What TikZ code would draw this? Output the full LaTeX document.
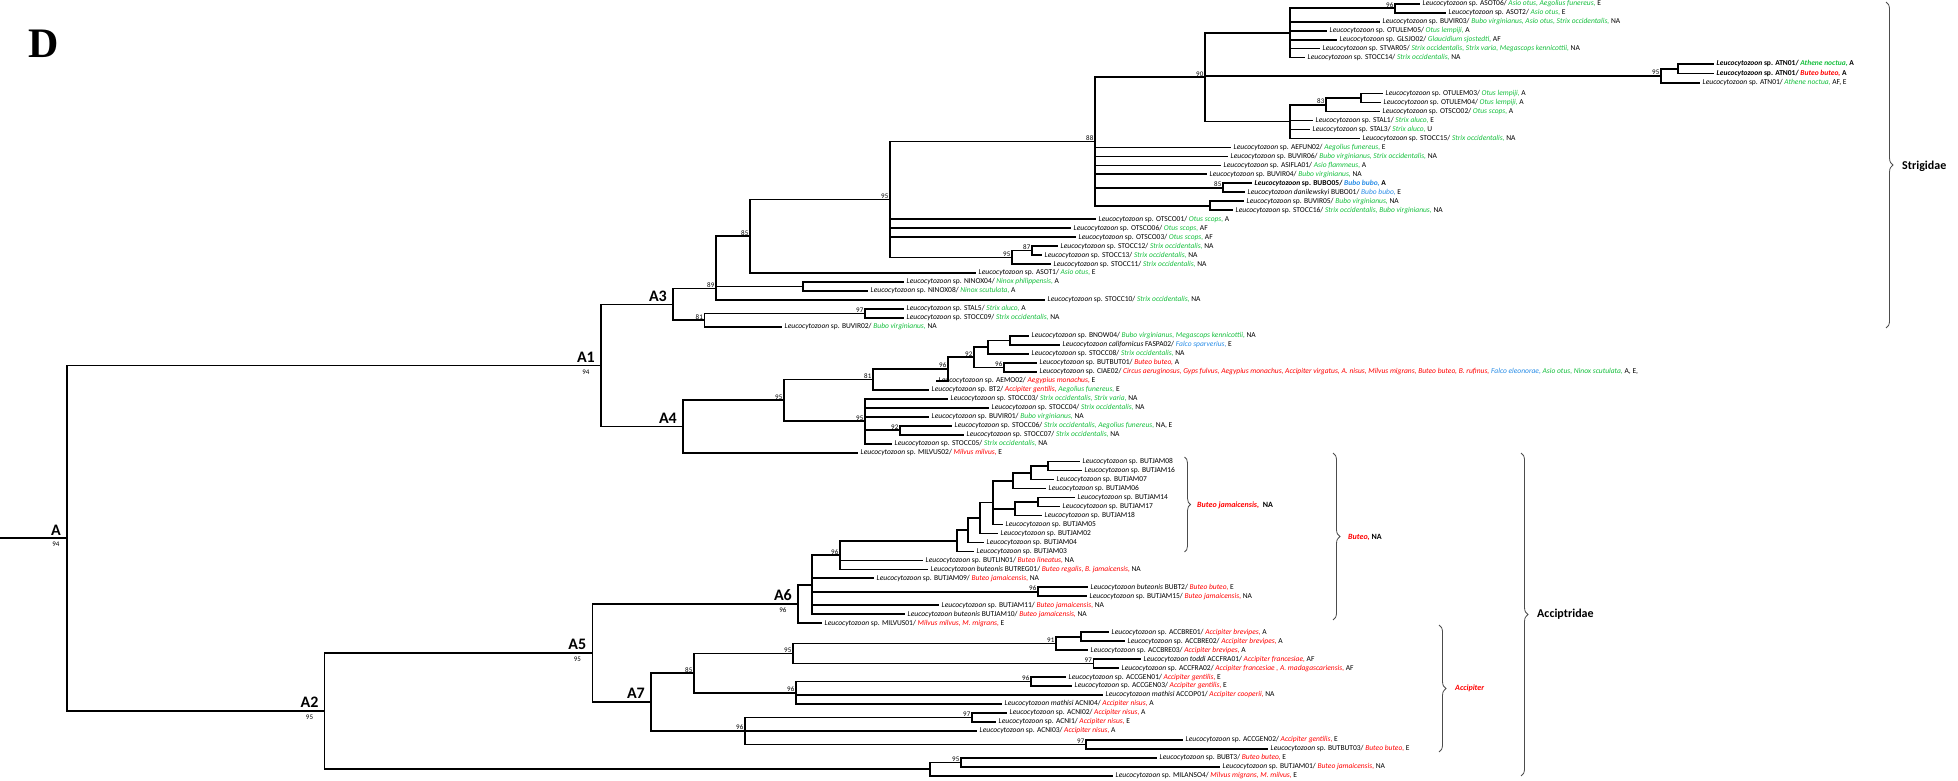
\documentclass[tikz,border=0pt]{standalone}
\usepackage{fontspec}
\setmainfont{Carlito}
\newfontfamily\serifD{Liberation Serif}
\usetikzlibrary{decorations.pathreplacing}
\definecolor{sg}{RGB}{20,190,60}
\definecolor{sr}{RGB}{255,0,0}
\definecolor{sb}{RGB}{40,140,230}
\newcommand{\Lz}{\textit{Leucocytozoon}}
\newcommand{\sG}[1]{\textcolor{sg}{\textit{#1}}}
\newcommand{\sR}[1]{\textcolor{sr}{\textit{#1}}}
\newcommand{\sB}[1]{\textcolor{sb}{\textit{#1}}}
\newcommand{\leaf}[4]{\node[lf] (#1) at (#2,#3) {#4};}
\newcommand{\kids}[2]{\foreach \kk in {#2}{\draw[br] (#1) |- (\kk);}}
\newcommand{\bsv}[2]{\node[bs] (b#1) at ([xshift=-1.5pt,yshift=0.8pt]#1) {#2};}
\newcommand{\clab}[3]{\node[al] (t#1) at ([xshift=-6pt,yshift=3pt]#1) {#2};
  \path (t#1.south |- #1) coordinate (v#1);
  \node[bsa] (u#1) at ([yshift=-4pt]v#1) {#3};}
\begin{document}
\begin{tikzpicture}[x=1pt,y=-1pt,
  br/.style={line width=1.7pt},
  lf/.style={anchor=west,inner xsep=2.5pt,inner ysep=0pt,font=\fontsize{7.5}{8}\selectfont,text height=5.2pt,text depth=1.4pt},
  bs/.style={anchor=south east,inner sep=0pt,font=\fontsize{7}{7}\selectfont},
  al/.style={anchor=south east,inner sep=0pt,font=\bfseries\fontsize{16}{16}\selectfont,text depth=0pt},
  bsa/.style={anchor=north,inner sep=0pt,font=\fontsize{7}{7}\selectfont},
  brk/.style={draw=black!70,line width=0.8pt,decorate,decoration={brace,amplitude=7pt}},
  grp/.style={anchor=west,inner sep=0pt,font=\bfseries\fontsize{12}{12}\selectfont},
  cladelab/.style={anchor=west,inner sep=0pt,font=\bfseries\fontsize{8}{8}\selectfont}]
\useasboundingbox (0,0) rectangle (1958,780);
\node[anchor=base west,inner sep=0pt,font=\serifD\bfseries\fontsize{42}{42}\selectfont] (D) at (28,57) {D};

% ---------------- leaves ----------------
\leaf{l1}{1420}{3.75}{\Lz{} sp. ASOT06/ \sG{Asio otus, Aegolius funereus,} E}
\leaf{l2}{1446}{12.73}{\Lz{} sp. ASOT2/ \sG{Asio otus,} E}
\leaf{l3}{1380}{21.71}{\Lz{} sp. BUVIR03/ \sG{Bubo virginianus, Asio otus, Strix occidentalis,} NA}
\leaf{l4}{1327}{30.68}{\Lz{} sp. OTULEM05/ \sG{Otus lempiji,} A}
\leaf{l5}{1337}{39.66}{\Lz{} sp. GLSJO02/ \sG{Glaucidium sjostedti,} AF}
\leaf{l6}{1320}{48.64}{\Lz{} sp. STVAR05/ \sG{Strix occidentalis, Strix varia, Megascops kennicottii,} NA}
\leaf{l7}{1305}{57.62}{\Lz{} sp. STOCC14/ \sG{Strix occidentalis,} NA}
\leaf{l8}{1714}{64}{\bfseries\Lz{} sp. ATN01/ \sG{Athene noctua,} A}
\leaf{l9}{1714}{73.5}{\bfseries\Lz{} sp. ATN01/ \sR{Buteo buteo,} A}
\leaf{l10}{1700}{83}{\Lz{} sp. ATN01/ \sG{Athene noctua,} AF, E}
\leaf{l11}{1383}{93.53}{\Lz{} sp. OTULEM03/ \sG{Otus lempiji,} A}
\leaf{l12}{1381}{102.51}{\Lz{} sp. OTULEM04/ \sG{Otus lempiji,} A}
\leaf{l13}{1380}{111.49}{\Lz{} sp. OTSCO02/ \sG{Otus scops,} A}
\leaf{l14}{1313}{120.46}{\Lz{} sp. STAL1/ \sG{Strix aluco,} E}
\leaf{l15}{1310}{129.44}{\Lz{} sp. STAL3/ \sG{Strix aluco,} U}
\leaf{l16}{1360}{138.42}{\Lz{} sp. STOCC15/ \sG{Strix occidentalis,} NA}
\leaf{l17}{1231}{147.40}{\Lz{} sp. AEFUN02/ \sG{Aegolius funereus,} E}
\leaf{l18}{1228}{156.38}{\Lz{} sp. BUVIR06/ \sG{Bubo virginianus, Strix occidentalis,} NA}
\leaf{l19}{1221}{165.35}{\Lz{} sp. ASIFLA01/ \sG{Asio flammeus,} A}
\leaf{l20}{1207}{174.33}{\Lz{} sp. BUVIR04/ \sG{Bubo virginianus,} NA}
\leaf{l21}{1252}{183.31}{\bfseries\Lz{} sp. BUBO05/ \sB{Bubo bubo,} A}
\leaf{l22}{1245}{192.29}{\Lz{} \textit{danilewskyi} BUBO01/ \sB{Bubo bubo,} E}
\leaf{l23}{1244}{201.26}{\Lz{} sp. BUVIR05/ \sG{Bubo virginianus,} NA}
\leaf{l24}{1233}{210.24}{\Lz{} sp. STOCC16/ \sG{Strix occidentalis, Bubo virginianus,} NA}
\leaf{l25}{1096}{219.22}{\Lz{} sp. OTSCO01/ \sG{Otus scops,} A}
\leaf{l26}{1071}{228.20}{\Lz{} sp. OTSCO06/ \sG{Otus scops,} AF}
\leaf{l27}{1076}{237.18}{\Lz{} sp. OTSCO03/ \sG{Otus scops,} AF}
\leaf{l28}{1058}{246.15}{\Lz{} sp. STOCC12/ \sG{Strix occidentalis,} NA}
\leaf{l29}{1042}{255.13}{\Lz{} sp. STOCC13/ \sG{Strix occidentalis,} NA}
\leaf{l30}{1051}{264.11}{\Lz{} sp. STOCC11/ \sG{Strix occidentalis,} NA}
\leaf{l31}{976}{273.09}{\Lz{} sp. ASOT1/ \sG{Asio otus,} E}
\leaf{l32}{904}{282.07}{\Lz{} sp. NINOX04/ \sG{Ninox philippensis,} A}
\leaf{l33}{868}{291.04}{\Lz{} sp. NINOX08/ \sG{Ninox scutulata,} A}
\leaf{l34}{1045}{300.02}{\Lz{} sp. STOCC10/ \sG{Strix occidentalis,} NA}
\leaf{l35}{904}{309.00}{\Lz{} sp. STAL5/ \sG{Strix aluco,} A}
\leaf{l36}{904}{317.98}{\Lz{} sp. STOCC09/ \sG{Strix occidentalis,} NA}
\leaf{l37}{782}{326.96}{\Lz{} sp. BUVIR02/ \sG{Bubo virginianus,} NA}
\leaf{l38}{1029}{335.93}{\Lz{} sp. BNOW04/ \sG{Bubo virginianus, Megascops kennicottii,} NA}
\leaf{l39}{1060}{344.91}{\Lz{} \textit{californicus} FASPA02/ \sB{Falco sparverius,} E}
\leaf{l40}{1029}{353.89}{\Lz{} sp. STOCC08/ \sG{Strix occidentalis,} NA}
\leaf{l41}{1037}{362.87}{\Lz{} sp. BUTBUT01/ \sR{Buteo buteo,} A}
\leaf{l42}{1037}{371.84}{\Lz{} sp. CIAE02/ \sR{Circus aeruginosus, Gyps fulvus, Aegypius monachus, Accipiter virgatus, A. nisus, Milvus migrans, Buteo buteo, B. rufinus,} \sB{Falco eleonorae,} \sG{Asio otus, Ninox scutulata,} A, E,}
\leaf{l43}{936}{380.82}{\Lz{} sp. AEMO02/ \sR{Aegypius monachus,} E}
\leaf{l44}{929}{389.80}{\Lz{} sp. BT2/ \sR{Accipiter gentilis,} \sG{Aegolius funereus,} E}
\leaf{l45}{948}{398.78}{\Lz{} sp. STOCC03/ \sG{Strix occidentalis, Strix varia,} NA}
\leaf{l46}{989}{407.76}{\Lz{} sp. STOCC04/ \sG{Strix occidentalis,} NA}
\leaf{l47}{929}{416.73}{\Lz{} sp. BUVIR01/ \sG{Bubo virginianus,} NA}
\leaf{l48}{952}{425.71}{\Lz{} sp. STOCC06/ \sG{Strix occidentalis, Aegolius funereus,} NA, E}
\leaf{l49}{964}{434.69}{\Lz{} sp. STOCC07/ \sG{Strix occidentalis,} NA}
\leaf{l50}{892}{443.67}{\Lz{} sp. STOCC05/ \sG{Strix occidentalis,} NA}
\leaf{l51}{858}{452.65}{\Lz{} sp. MILVUS02/ \sR{Milvus milvus,} E}
\leaf{l52}{1080}{461.62}{\Lz{} sp. BUTJAM08}
\leaf{l53}{1082}{470.60}{\Lz{} sp. BUTJAM16}
\leaf{l54}{1054}{479.58}{\Lz{} sp. BUTJAM07}
\leaf{l55}{1046}{488.56}{\Lz{} sp. BUTJAM06}
\leaf{l56}{1075}{497.53}{\Lz{} sp. BUTJAM14}
\leaf{l57}{1060}{506.51}{\Lz{} sp. BUTJAM17}
\leaf{l58}{1042}{515.49}{\Lz{} sp. BUTJAM18}
\leaf{l59}{1003}{524.47}{\Lz{} sp. BUTJAM05}
\leaf{l60}{998}{533.45}{\Lz{} sp. BUTJAM02}
\leaf{l61}{984}{542.42}{\Lz{} sp. BUTJAM04}
\leaf{l62}{974}{551.40}{\Lz{} sp. BUTJAM03}
\leaf{l63}{923}{560.38}{\Lz{} sp. BUTLIN01/ \sR{Buteo lineatus,} NA}
\leaf{l64}{928}{569.36}{\Lz{} \textit{buteonis} BUTREG01/ \sR{Buteo regalis, B. jamaicensis,} NA}
\leaf{l65}{874}{578.33}{\Lz{} sp. BUTJAM09/ \sR{Buteo jamaicensis,} NA}
\leaf{l66}{1088}{587.31}{\Lz{} \textit{buteonis} BUBT2/ \sR{Buteo buteo,} E}
\leaf{l67}{1087}{596.29}{\Lz{} sp. BUTJAM15/ \sR{Buteo jamaicensis,} NA}
\leaf{l68}{939}{605.27}{\Lz{} sp. BUTJAM11/ \sR{Buteo jamaicensis,} NA}
\leaf{l69}{905}{614.25}{\Lz{} \textit{buteonis} BUTJAM10/ \sR{Buteo jamaicensis,} NA}
\leaf{l70}{822}{623.22}{\Lz{} sp. MILVUS01/ \sR{Milvus milvus, M. migrans,} E}
\leaf{l71}{1109}{632.20}{\Lz{} sp. ACCBRE01/ \sR{Accipiter brevipes,} A}
\leaf{l72}{1125}{641.18}{\Lz{} sp. ACCBRE02/ \sR{Accipiter brevipes,} A}
\leaf{l73}{1088}{650.16}{\Lz{} sp. ACCBRE03/ \sR{Accipiter brevipes,} A}
\leaf{l74}{1141}{659.13}{\Lz{} \textit{toddi} ACCFRA01/ \sR{Accipiter francesiae,} AF}
\leaf{l75}{1119}{668.11}{\Lz{} sp. ACCFRA02/ \sR{Accipiter francesiae , A. madagascariensis,} AF}
\leaf{l76}{1066}{677.09}{\Lz{} sp. ACCGEN01/ \sR{Accipiter gentilis,} E}
\leaf{l77}{1072}{686.07}{\Lz{} sp. ACCGEN03/ \sR{Accipiter gentilis,} E}
\leaf{l78}{1103}{695.05}{\Lz{} \textit{mathisi} ACCOP01/ \sR{Accipiter cooperii,} NA}
\leaf{l79}{1002}{704.02}{\Lz{} \textit{mathisi} ACNI04/ \sR{Accipiter nisus,} A}
\leaf{l80}{1007}{713.00}{\Lz{} sp. ACNI02/ \sR{Accipiter nisus,} A}
\leaf{l81}{996}{721.98}{\Lz{} sp. ACNI1/ \sR{Accipiter nisus,} E}
\leaf{l82}{977}{730.96}{\Lz{} sp. ACNI03/ \sR{Accipiter nisus,} A}
\leaf{l83}{1183}{739.93}{\Lz{} sp. ACCGEN02/ \sR{Accipiter gentilis,} E}
\leaf{l84}{1268}{748.91}{\Lz{} sp. BUTBUT03/ \sR{Buteo buteo,} E}
\leaf{l85}{1157}{757.89}{\Lz{} sp. BUBT3/ \sR{Buteo buteo,} E}
\leaf{l86}{1220}{766.87}{\Lz{} sp. BUTJAM01/ \sR{Buteo jamaicensis,} NA}
\leaf{l87}{1113}{775.85}{\Lz{} sp. MILANSO4/ \sR{Milvus migrans, M. milvus,} E}

% ---------------- internal nodes ----------------
\coordinate (root) at (0,538.2);
\coordinate (A) at (67,538.2);
\coordinate (A1) at (601,365.4);
\coordinate (A2) at (324.6,711.05);
\coordinate (A3) at (673,304.4);
\coordinate (A4) at (683,426.5);
\coordinate (A5) at (592.4,653);
\coordinate (A6) at (798,604);
\coordinate (A7) at (651,702.06);
% Strigidae
\coordinate (n96a) at (1395,8.24);
\coordinate (ntop) at (1290,32.93);
\coordinate (natp) at (1678,68.75);
\coordinate (n95b) at (1661,75.88);
\coordinate (not) at (1361,98.02);
\coordinate (n83) at (1326,104.76);
\coordinate (nmid) at (1290,121.59);
\coordinate (n90) at (1205,77.26);
\coordinate (n85b) at (1223,187.8);
\coordinate (nbv) at (1210,205.75);
\coordinate (n88) at (1095,141.5);
\coordinate (n87) at (1032,250.64);
\coordinate (n95s) at (1012,257.4);
\coordinate (n95a) at (890,199.4);
\coordinate (n85) at (750,236.2);
\coordinate (nnin) at (802.7,286.56);
\coordinate (n89) at (716,288.5);
\coordinate (n97) at (865,313.49);
\coordinate (n81) at (704.5,320.2);
% A4
\coordinate (n1010) at (1010,340.42);
\coordinate (n988) at (988,347.16);
\coordinate (n96b) at (1004,367.36);
\coordinate (n92) at (974,357.26);
\coordinate (n96c) at (948,369.04);
\coordinate (n81b) at (873,379.42);
\coordinate (n92b) at (900,430.2);
\coordinate (n95d) at (865,421.2);
\coordinate (n95c) at (784,400.3);
% A6
\coordinate (nj8) at (1048,466.11);
\coordinate (nj7) at (1031,472.85);
\coordinate (nj6) at (1013,480.7);
\coordinate (nj14) at (1038,502.02);
\coordinate (nj17) at (1015,508.76);
\coordinate (nj1) at (993,502.6);
\coordinate (nj2) at (980,518.0);
\coordinate (nj3) at (968,530.2);
\coordinate (nj4) at (957,540.8);
\coordinate (n96f) at (840,555.1);
\coordinate (n96e) at (1038,591.8);
\coordinate (nb1) at (812,584.7);
% A7
\coordinate (n1081) at (1081,636.69);
\coordinate (n91) at (1056,643.43);
\coordinate (n97a) at (1093.5,663.62);
\coordinate (n95i) at (793,653.5);
\coordinate (n96h) at (1031,681.58);
\coordinate (n96g) at (796,692.8);
\coordinate (n85c) at (694,673.15);
\coordinate (n97b) at (972,717.49);
\coordinate (n97c) at (1086,744.42);
\coordinate (n96i) at (745,730.96);
\coordinate (n95h) at (961,762.38);
\coordinate (n95g) at (930,769.1);

% ---------------- branches ----------------
\draw[br] (root) -- (A);
\kids{A}{A1,A2}
\kids{A1}{A3,A4}
\kids{A3}{n89,n81}
\kids{n89}{n85,nnin,l34.west}
\kids{n85}{n95a,l31.west}
\kids{n95a}{n88,l25.west,l26.west,l27.west,n95s}
\kids{n95s}{n87,l30.west}
\kids{n87}{l28.west,l29.west}
\kids{n88}{n90,l17.west,l18.west,l19.west,l20.west,n85b,nbv}
\kids{n85b}{l21.west,l22.west}
\kids{nbv}{l23.west,l24.west}
\kids{n90}{ntop,n95b,nmid}
\kids{ntop}{n96a,l3.west,l4.west,l5.west,l6.west,l7.west}
\kids{n96a}{l1.west,l2.west}
\kids{n95b}{natp,l10.west}
\kids{natp}{l8.west,l9.west}
\kids{nmid}{n83,l14.west,l15.west,l16.west}
\kids{n83}{not,l13.west}
\kids{not}{l11.west,l12.west}
\kids{nnin}{l32.west,l33.west}
\kids{n81}{n97,l37.west}
\kids{n97}{l35.west,l36.west}
\kids{A4}{n95c,l51.west}
\kids{n95c}{n81b,n95d}
\kids{n81b}{n96c,l44.west}
\kids{n96c}{n92,l43.west}
\kids{n92}{n988,n96b}
\kids{n988}{n1010,l40.west}
\kids{n1010}{l38.west,l39.west}
\kids{n96b}{l41.west,l42.west}
\kids{n95d}{l45.west,l46.west,l47.west,n92b,l50.west}
\kids{n92b}{l48.west,l49.west}
\kids{A2}{A5,n95g}
\kids{A5}{A6,A7}
\kids{A6}{nb1,l70.west}
\kids{nb1}{n96f,l65.west,n96e,l68.west,l69.west}
\kids{n96f}{nj4,l63.west,l64.west}
\kids{nj4}{nj3,l62.west}
\kids{nj3}{nj2,l61.west}
\kids{nj2}{nj1,l60.west}
\kids{nj1}{nj6,nj17,l59.west}
\kids{nj6}{nj7,l55.west}
\kids{nj7}{nj8,l54.west}
\kids{nj8}{l52.west,l53.west}
\kids{nj17}{nj14,l58.west}
\kids{nj14}{l56.west,l57.west}
\kids{n96e}{l66.west,l67.west}
\kids{A7}{n85c,n96i}
\kids{n85c}{n95i,n96g}
\kids{n95i}{n91,n97a}
\kids{n91}{n1081,l73.west}
\kids{n1081}{l71.west,l72.west}
\kids{n97a}{l74.west,l75.west}
\kids{n96g}{n96h,l78.west,l79.west}
\kids{n96h}{l76.west,l77.west}
\kids{n96i}{n97b,l82.west,n97c}
\kids{n97b}{l80.west,l81.west}
\kids{n97c}{l83.west,l84.west}
\kids{n95g}{n95h,l87.west}
\kids{n95h}{l85.west,l86.west}

% ---------------- support values ----------------
\bsv{n96a}{96} \bsv{n95b}{95} \bsv{n83}{83} \bsv{n90}{90} \bsv{n85b}{85}
\bsv{n88}{88} \bsv{n87}{87} \bsv{n95s}{95} \bsv{n95a}{95} \bsv{n85}{85}
\bsv{n89}{89} \bsv{n97}{97} \bsv{n81}{81}
\bsv{n96b}{96} \bsv{n92}{92} \bsv{n96c}{96} \bsv{n81b}{81} \bsv{n92b}{92}
\bsv{n95d}{95} \bsv{n95c}{95}
\bsv{n96f}{96} \bsv{n96e}{96}
\bsv{n91}{91} \bsv{n97a}{97} \bsv{n95i}{95} \bsv{n96h}{96} \bsv{n96g}{96}
\bsv{n85c}{85} \bsv{n97b}{97} \bsv{n97c}{97} \bsv{n96i}{96} \bsv{n95h}{95}

% ---------------- clade names ----------------
\clab{A}{A}{94}
\clab{A1}{A1}{94}
\clab{A2}{A2}{95}
\clab{A3}{A3}{}
\clab{A4}{A4}{}
\clab{A5}{A5}{95}
\clab{A6}{A6}{96}
\clab{A7}{A7}{}

% ---------------- brackets ----------------
\draw[brk] (1886,2) -- (1886,328);
\node[grp] (tStrig) at (1902,166) {Strigidae};
\draw[brk,decoration={brace,amplitude=6pt}] (1184.5,457) -- (1184.5,552);
\node[cladelab] (tBj) at (1197,505) {\textcolor{sr}{\itshape Buteo jamaicensis,}\ \ NA};
\draw[brk] (1333,453) -- (1333,620);
\node[cladelab] (tBu) at (1348,537.5) {\textcolor{sr}{\itshape Buteo,} NA};
\draw[brk] (1521,453) -- (1521,776);
\node[grp] (tAcc) at (1537,614.5) {Acciptridae};
\draw[brk] (1439,625) -- (1439,752);
\node[cladelab] (tAp) at (1455,688.5) {\textcolor{sr}{\itshape Accipiter}};
\end{tikzpicture}
\end{document}
